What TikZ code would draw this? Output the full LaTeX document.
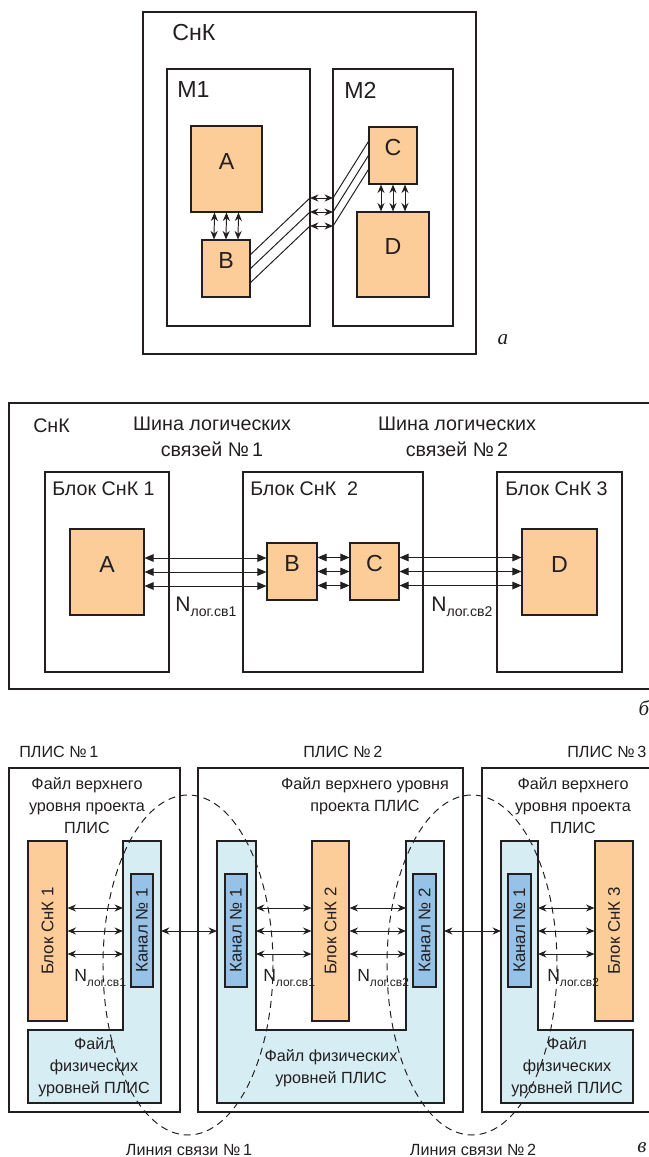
\documentclass[tikz,border=0pt]{standalone}
\usepackage{fontspec}
\setmainfont{Liberation Sans}
\newfontfamily\serifit{Liberation Serif}
\usepackage{tikz}
\usetikzlibrary{positioning}
\usetikzlibrary{fit}
\usetikzlibrary{arrows.meta}
\usepackage{xcolor}
\definecolor{orng}{RGB}{252,204,153}
\definecolor{lblue}{RGB}{214,237,244}
\definecolor{chblue}{RGB}{150,194,232}
\definecolor{ink}{RGB}{35,31,32}
\tikzstyle{R} = [draw=ink,inner sep=0pt,line width=0.8pt,text=ink]
\tikzstyle{O} = [R,fill=orng]
\tikzstyle{K} = [R,fill=chblue]
\tikzstyle{P} = [R,line width=1.5pt]
\tikzstyle{T} = [inner sep=0pt,text=ink]
\tikzstyle{fa} = [font=\fontsize{16.5}{19}\selectfont]
\tikzstyle{fb} = [font=\fontsize{14}{18.5}\selectfont,align=center]
\tikzstyle{fbl} = [font=\fontsize{16.5}{19}\selectfont]
\tikzstyle{fc} = [font=\fontsize{11.5}{15.6}\selectfont,align=center]
\tikzstyle{fr} = [font=\fontsize{12}{14}\selectfont,rotate=90]
\tikzstyle{fi} = [font=\serifit\itshape\fontsize{15}{18}\selectfont]
\tikzstyle{ell} = [draw=ink,line width=0.7pt,dash pattern=on 5pt off 3.5pt]
\tikzset{>={Stealth[length=6pt,width=5pt]}}
\tikzset{bar/.style={<->,draw=ink,line width=0.7pt}}
\tikzset{bbar/.style={{Triangle[length=6.5pt,width=5.5pt]}-{Triangle[length=6.5pt,width=5.5pt]},draw=ink,line width=0.7pt}}

\begin{document}
\begin{tikzpicture}[x=0.025cm,y=-0.025cm]
  \useasboundingbox (0,0) rectangle (649,1157);
  \clip (0,0) rectangle (649,1157);

  \node [R,fit={(143,12) (476,354)}] (snk) {};
  \node [T,fa,anchor=west] (snkl) at (172,33) {СнК};
  \node [R,fit={(167,69) (310,326)}] (m1) {};
  \node [R,fit={(333,69) (453,326)}] (m2) {};
  \node [T,fa,anchor=west] (m1l) at (177,90) {M1};
  \node [T,fa,anchor=west] (m2l) at (344,90) {M2};
  \node [O,fa,fit={(191,126) (262,212)}] (na) {A};
  \node [O,fa,fit={(202,240) (250,297)}] (nb) {B};
  \node [O,fa,fit={(369,127) (417,184)}] (nc) {C};
  \node [O,fa,fit={(357,212) (429,297)}] (nd) {D};
  \foreach \d in {-0.3,0,0.3} {
    \draw [bar] ([xshift=\d cm]na.south) -- ([xshift=\d cm]nb.north);
    \draw [bar] ([xshift=\d cm]nc.south) -- ([xshift=\d cm]nd.north);
  }
  \coordinate (g1) at (310,212);
  \coordinate (g2) at (333,212);
  \foreach \d in {-0.35,0,0.35} {
    \draw [draw=ink,line width=0.7pt] ([yshift=\d cm]nb.east) -- ([yshift=\d cm]g1);
    \draw [bar] ([yshift=\d cm]g1) -- ([yshift=\d cm]g2);
    \draw [draw=ink,line width=0.7pt] ([yshift=\d cm]g2) -- ([yshift=\d cm]nc.west);
  }
  \node [T,fi] (la) at (503,340) {а};

  \node [R,fit={(9,403) (660,689)}] (snk2) {};
  \node [T,fb,anchor=west] (snk2l) at (33,426) {СнК};
  \node [T,fb] (bus1) at (212,437) {Шина логических\\связей №\,1};
  \node [T,fb] (bus2) at (457,437) {Шина логических\\связей №\,2};
  \node [R,fit={(45,472) (169,672)}] (u1) {};
  \node [R,fit={(243,472) (423,672)}] (u2) {};
  \node [R,fit={(497,472) (622,672)}] (u3) {};
  \node [T,fb,anchor=west] (u1l) at (52,489) {Блок СнК 1};
  \node [T,fb,anchor=west] (u2l) at (250,489) {Блок СнК~~2};
  \node [T,fb,anchor=west] (u3l) at (505,489) {Блок СнК 3};
  \node [O,fbl,fit={(70,529) (144,615)}] (ba) {A};
  \node [O,fbl,fit={(267,543) (317,600)}] (bb) {B};
  \node [O,fbl,fit={(350,543) (399,600)}] (bc) {C};
  \node [O,fbl,fit={(522,529) (597,615)}] (bd) {D};
  \foreach \d in {-0.35,0,0.35} {
    \draw [bbar] ([yshift=\d cm]ba.east) -- ([yshift=\d cm]ba.east -| bb.west);
    \draw [bbar] ([yshift=\d cm]bb.east) -- ([yshift=\d cm]bb.east -| bc.west);
    \draw [bbar] ([yshift=\d cm]bc.east) -- ([yshift=\d cm]bc.east -| bd.west);
  }
  \node [T,font=\fontsize{15}{18}\selectfont,anchor=west] (nlb1) at (175,607) {N\raisebox{-0.5ex}{\fontsize{10}{12}\selectfont лог.св1}};
  \node [T,font=\fontsize{15}{18}\selectfont,anchor=west] (nlb2) at (431,607) {N\raisebox{-0.5ex}{\fontsize{10}{12}\selectfont лог.св2}};
  \node [T,fi] (lb) at (644,708) {б};

  \node [T,fc,anchor=west] (p1l) at (19,752) {ПЛИС №\,1};
  \node [T,fc,anchor=west] (p2l) at (303,752) {ПЛИС №\,2};
  \node [T,fc,anchor=west] (p3l) at (567,752) {ПЛИС №\,3};
  \node [P,fit={(9,768) (180,1112)}] (p1) {};
  \node [P,fit={(198,768) (463,1112)}] (p2) {};
  \node [P,fit={(482,768) (660,1112)}] (p3) {};
  \node [T,fc] (p1t) at (87,806) {Файл верхнего\\уровня проекта\\ПЛИС};
  \node [T,fc] (p2t) at (365,796) {Файл верхнего уровня\\проекта ПЛИС};
  \node [T,fc] (p3t) at (573,806) {Файл верхнего\\уровня проекта\\ПЛИС};

  \filldraw [fill=lblue,draw=ink,line width=0.8pt] (123,841) -- (161,841) -- (161,1103) -- (28,1103) -- (28,1030) -- (123,1030) -- cycle;
  \filldraw [fill=lblue,draw=ink,line width=0.8pt] (217,841) -- (256,841) -- (256,1030) -- (406,1030) -- (406,841) -- (444,841) -- (444,1103) -- (217,1103) -- cycle;
  \filldraw [fill=lblue,draw=ink,line width=0.8pt] (501,841) -- (538,841) -- (538,1030) -- (633,1030) -- (633,1103) -- (501,1103) -- cycle;
  \coordinate (f1i) at (123,931);
  \coordinate (f1o) at (161,931);
  \coordinate (f2i) at (217,931);
  \coordinate (f2a) at (256,931);
  \coordinate (f2b) at (406,931);
  \coordinate (f2o) at (444,931);
  \coordinate (f3i) at (501,931);
  \coordinate (f3a) at (538,931);

  \node [O,fit={(28,841) (67,1021)}] (bk1) {};
  \node [O,fit={(312,841) (349,1021)}] (bk2) {};
  \node [O,fit={(595,841) (633,1021)}] (bk3) {};
  \node [T,fr] (bk1t) at (bk1.center) {Блок СнК 1};
  \node [T,fr] (bk2t) at (bk2.center) {Блок СнК 2};
  \node [T,fr] (bk3t) at (bk3.center) {Блок СнК 3};
  \node [K,fit={(131,874) (153,987)}] (ch1) {};
  \node [K,fit={(225,874) (247,987)}] (ch21) {};
  \node [K,fit={(413,874) (436,987)}] (ch22) {};
  \node [K,fit={(508,874) (531,987)}] (ch3) {};
  \node [T,fr] (ch1t) at (ch1.center) {Канал № 1};
  \node [T,fr] (ch21t) at (ch21.center) {Канал № 1};
  \node [T,fr] (ch22t) at (ch22.center) {Канал № 2};
  \node [T,fr] (ch3t) at (ch3.center) {Канал № 1};

  \foreach \d in {-0.575,0,0.575} {
    \draw [bar] ([yshift=\d cm]bk1.east) -- ([yshift=\d cm]f1i);
    \draw [bar] ([yshift=\d cm]f2a) -- ([yshift=\d cm]bk2.west);
    \draw [bar] ([yshift=\d cm]bk2.east) -- ([yshift=\d cm]f2b);
    \draw [bar] ([yshift=\d cm]f3a) -- ([yshift=\d cm]bk3.west);
  }
  \draw [bar] (f1o) -- (f2i);
  \draw [bar] (f2o) -- (f3i);

  \node [T,font=\fontsize{12.5}{15}\selectfont,anchor=west] (nc1) at (74,978) {N\raisebox{-0.5ex}{\fontsize{8.5}{10}\selectfont лог.св1}};
  \node [T,font=\fontsize{12.5}{15}\selectfont,anchor=west] (nc2) at (263,978) {N\raisebox{-0.5ex}{\fontsize{8.5}{10}\selectfont лог.св1}};
  \node [T,font=\fontsize{12.5}{15}\selectfont,anchor=west] (nc3) at (357,978) {N\raisebox{-0.5ex}{\fontsize{8.5}{10}\selectfont лог.св2}};
  \node [T,font=\fontsize{12.5}{15}\selectfont,anchor=west] (nc4) at (547,978) {N\raisebox{-0.5ex}{\fontsize{8.5}{10}\selectfont лог.св2}};

  \node [T,fc] (p1b) at (94,1067) {Файл\\физических\\уровней ПЛИС};
  \node [T,fc] (p2b) at (331,1068) {Файл физических\\уровней ПЛИС};
  \node [T,fc] (p3b) at (567,1067) {Файл\\физических\\уровней ПЛИС};

  \draw [ell] (188,965) ellipse [x radius=85, y radius=170];
  \draw [ell] (472,965) ellipse [x radius=85, y radius=170];
  \node [T,fc] (ln1) at (189,1150) {Линия связи №\,1};
  \node [T,fc] (ln2) at (473,1150) {Линия связи №\,2};
  \node [T,fi] (lc) at (642,1148) {в};
\end{tikzpicture}
\end{document}
